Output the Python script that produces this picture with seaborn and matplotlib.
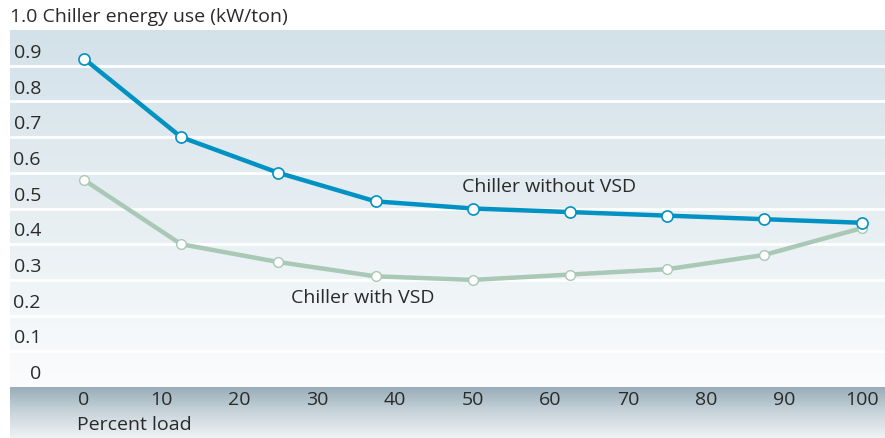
import numpy as np
import pandas as pd
import matplotlib
matplotlib.use("Agg")
import matplotlib.pyplot as plt
from matplotlib.colors import LinearSegmentedColormap
import matplotlib.transforms as mtransforms
import seaborn as sns

# Chiller efficiency versus part load
load_pct = [0, 12.5, 25, 37.5, 50, 62.5, 75, 87.5, 100]
without_vsd = [0.92, 0.70, 0.60, 0.52, 0.50, 0.49, 0.48, 0.47, 0.46]
with_vsd = [0.58, 0.40, 0.35, 0.31, 0.30, 0.315, 0.33, 0.37, 0.445]

y_ticks = [0, 0.1, 0.2, 0.3, 0.4, 0.5, 0.6, 0.7, 0.8, 0.9]
y_tick_labels = ["0", "0.1", "0.2", "0.3", "0.4", "0.5", "0.6", "0.7", "0.8", "0.9"]
x_ticks = [0, 10, 20, 30, 40, 50, 60, 70, 80, 90, 100]
x_tick_labels = [str(t) for t in x_ticks]

y_title = "1.0 Chiller energy use (kW/ton)"
x_title = "Percent load"
label_without = "Chiller without VSD"
label_with = "Chiller with VSD"

sns.set_theme(style="white")
plt.rcParams["font.family"] = ["Open Sans", "DejaVu Sans"]

W, H = 885, 438
fig = plt.figure(figsize=(W / 100, H / 100), dpi=100)
fig.patch.set_facecolor("white")

left_px, right_px, top_px, bottom_px = 10, 885, 30, 387
ax = fig.add_axes([left_px / W, 1 - bottom_px / H,
                   (right_px - left_px) / W, (bottom_px - top_px) / H])
ax.set_xlim(-9.5, 103.0)
ax.set_ylim(0, 1.0)

# soft vertical gradient behind the plot
bg = LinearSegmentedColormap.from_list("bg", ["#fbfcfd", "#e6eef2", "#d3e1e9"])
grad = np.linspace(0, 1, 256).reshape(-1, 1)
ax.imshow(grad, cmap=bg, aspect="auto", origin="lower",
          extent=[0, 1, 0, 1], transform=ax.transAxes, zorder=0)

for v in y_ticks[1:]:
    ax.axhline(v, color="white", lw=2.0, zorder=1)

df = pd.DataFrame({
    "load": load_pct * 2,
    "kw": without_vsd + with_vsd,
    "series": [label_without] * len(load_pct) + [label_with] * len(load_pct),
})

sns.lineplot(data=df[df.series == label_with], x="load", y="kw", ax=ax,
             color="#a9c8b5", lw=3.2, marker="o", markersize=7,
             markerfacecolor="white", markeredgecolor="#a9c8b5",
             markeredgewidth=1.0, zorder=3, legend=False)
sns.lineplot(data=df[df.series == label_without], x="load", y="kw", ax=ax,
             color="#0092c2", lw=3.2, marker="o", markersize=8,
             markerfacecolor="white", markeredgecolor="#0092c2",
             markeredgewidth=1.2, zorder=4, legend=False)

for s in ax.spines.values():
    s.set_visible(False)
ax.set_xticks([])
ax.set_yticks([])
ax.set_xlabel("")
ax.set_ylabel("")

txt = "#2a2a2a"
fs = 14
# value labels inside the left edge of each band
trans = mtransforms.blended_transform_factory(fig.transFigure, ax.transData)
for v, lab in zip(y_ticks, y_tick_labels):
    ax.text(41 / W, v + 0.036, lab, transform=trans, ha="right", va="center",
            fontsize=fs, color=txt, zorder=5)

fig.text(10 / W, 1 - 17 / H, y_title, ha="left", va="center",
         fontsize=fs, color=txt)

ax.text(48.6, 0.56, label_without, ha="left", va="center",
        fontsize=fs, color=txt, zorder=5)
ax.text(26.6, 0.249, label_with, ha="left", va="center",
        fontsize=fs, color=txt, zorder=5)

# x-axis band with its own gradient
band = fig.add_axes([left_px / W, 0, (right_px - left_px) / W, (H - bottom_px) / H])
band_cmap = LinearSegmentedColormap.from_list("band", ["#eef2f4", "#c9d5db", "#98adb8"])
band.imshow(grad, cmap=band_cmap, aspect="auto", origin="lower",
            extent=[0, 1, 0, 1], transform=band.transAxes, zorder=0)
band.set_xlim(ax.get_xlim())
band.set_ylim(0, 1)
band.axis("off")
for t, lab in zip(x_ticks, x_tick_labels):
    band.text(t, 1 - 13 / (H - bottom_px), lab, ha="center", va="center",
              fontsize=fs, color=txt)
band.text(-0.9, 1 - 38 / (H - bottom_px), x_title, ha="left", va="center",
          fontsize=fs, color=txt)

fig.savefig("out.png", dpi=100)
